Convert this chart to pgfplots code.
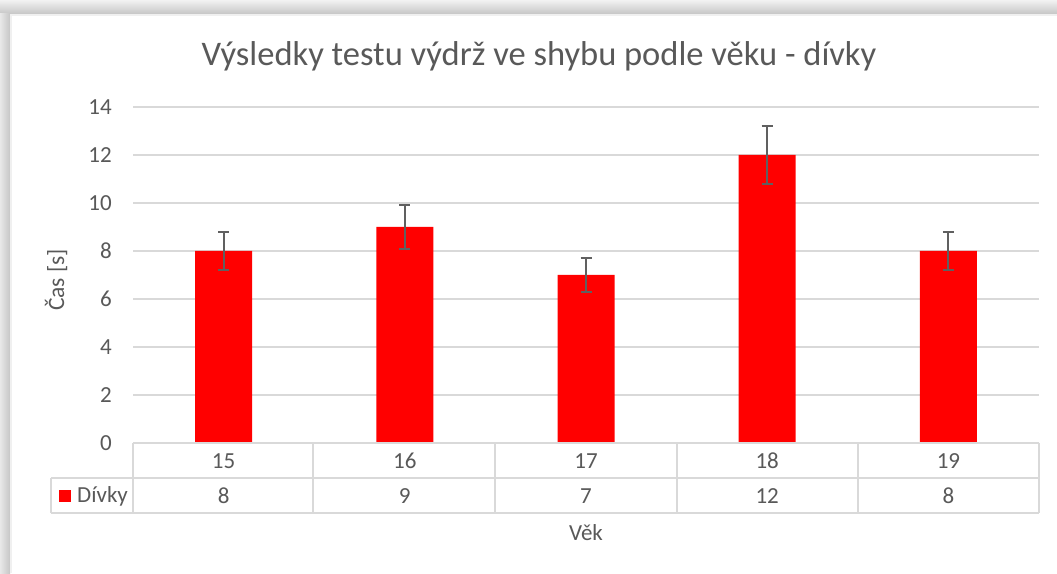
\documentclass[border=0pt]{standalone}
\usepackage{fontspec}
\setmainfont{Carlito}
\usepackage{pgfplots}
\pgfplotsset{compat=1.18}
\definecolor{txt}{HTML}{595959}
\definecolor{gridc}{HTML}{D9D9D9}
\definecolor{errc}{HTML}{606060}
\begin{document}
\begin{tikzpicture}
\useasboundingbox (0pt,0pt) rectangle (1057pt,573pt);
\fill[white] (0pt,0pt) rectangle (1057pt,573pt);
\shade[top color=gray!10, bottom color=gray!45] (0pt,559pt) rectangle (1057pt,573pt);
\shade[left color=gray!18, right color=gray!45] (0pt,0pt) rectangle (10pt,559pt);
\fill[gray!12] (10pt,0pt) rectangle (1057pt,559pt);
\fill[white] (12pt,0pt) rectangle (1057pt,557pt);
\begin{axis}[
  at={(133pt,130pt)}, anchor=south west,
  scale only axis, width=906pt, height=336pt,
  xmin=-0.5, xmax=4.5, ymin=0, ymax=14,
  xtick={0,1,2,3,4}, xticklabels={15,16,17,18,19},
  ytick={0,2,...,14},
  ymajorgrids, grid style={gridc, line width=1.5pt},
  axis line style={draw=none},
  major tick length=0pt,
  clip=false,
  /pgf/number format/assume math mode=true,
  ticklabel style={font=\fontsize{23}{28}\selectfont, text=txt},
  yticklabel style={anchor=east, inner sep=0pt, xshift=-21pt},
  xticklabel style={anchor=center, inner sep=0pt, yshift=-18pt},
]
\addplot[ybar, bar width=57pt, fill=red, draw=none,
  error bars/.cd, y dir=both, y explicit,
  error bar style={errc, line width=2pt},
  error mark options={rotate=90, mark size=5.5pt, line width=2pt, errc}]
  coordinates {(0,8) +- (0,0.8) (1,9) +- (0,0.9) (2,7) +- (0,0.7) (3,12) +- (0,1.2) (4,8) +- (0,0.8)};
\addplot[draw=none, mark=none, nodes near coords,
  every node near coord/.append style={anchor=center, inner sep=0pt, font=\fontsize{23}{28}\selectfont, text=txt},
  point meta=explicit]
  coordinates {(0,-2.208) [8] (1,-2.208) [9] (2,-2.208) [7] (3,-2.208) [12] (4,-2.208) [8]};
\end{axis}
% data table lines
\begin{scope}[gridc, line width=2pt]
\draw (133pt,130pt) -- (1039pt,130pt);
\draw (51pt,95pt) -- (1039pt,95pt);
\draw (51pt,60pt) -- (1039pt,60pt);
\draw (51pt,95pt) -- (51pt,60pt);
\foreach \x in {133,313,495,677,858,1039} \draw (\x pt,130pt) -- (\x pt,60pt);
\end{scope}
\fill[red] (59pt,71pt) rectangle (71pt,83pt);
\node[anchor=west, inner sep=0pt, text=txt, font=\fontsize{23}{28}\selectfont] at (77pt,77pt) {Dívky};
% titles
\node[anchor=base, inner sep=0pt, text=txt, font=\fontsize{34.5}{40}\selectfont] at (539pt,507pt) {Výsledky testu výdrž ve shybu podle věku - dívky};
\node[rotate=90, inner sep=0pt, text=txt, font=\fontsize{23.5}{28}\selectfont] at (56pt,293pt) {Čas [s]};
\node[inner sep=0pt, text=txt, font=\fontsize{23}{28}\selectfont] at (586pt,40pt) {Věk};
\end{tikzpicture}
\end{document}
